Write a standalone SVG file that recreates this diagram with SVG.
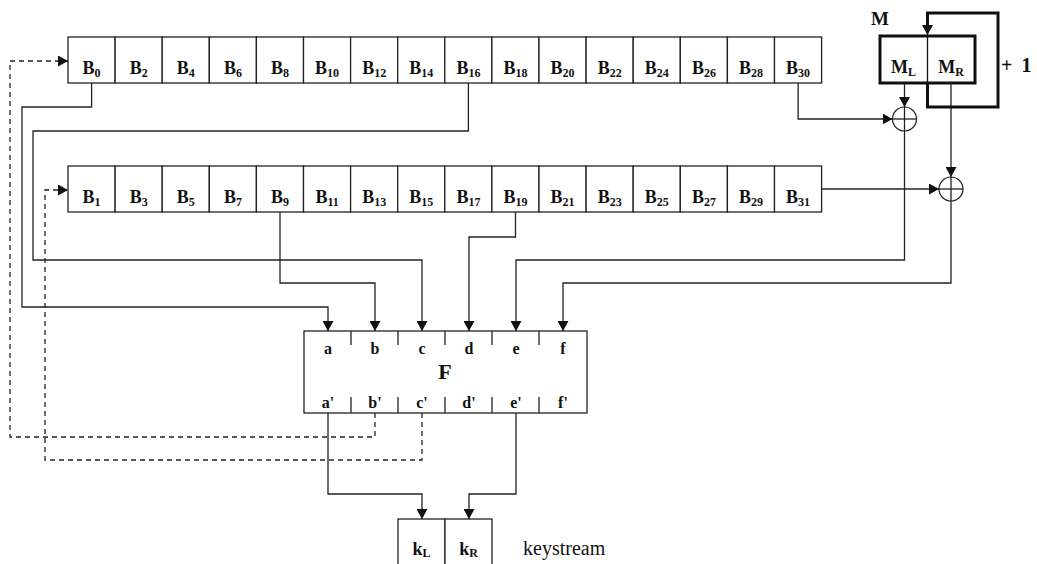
<svg xmlns="http://www.w3.org/2000/svg" width="1037" height="564" viewBox="0 0 1037 564">
<style>
.cell{fill:#fff;stroke:#222;stroke-width:1.3}
.b{font-family:"Liberation Serif",serif;font-weight:bold;font-size:18px;fill:#111;text-anchor:middle}
.sub{font-size:12px}
.ln{fill:none;stroke:#222;stroke-width:1.3}
.ar{marker-end:url(#ah)}
.dash{fill:none;stroke:#222;stroke-width:1.3;stroke-dasharray:5,4}
.thick{fill:none;stroke:#111;stroke-width:3}
.lbl{font-family:"Liberation Serif",serif;font-weight:bold;font-size:16px;fill:#111;text-anchor:middle}
</style>
<defs>
<marker id="ah" markerUnits="userSpaceOnUse" markerWidth="11" markerHeight="11" refX="10" refY="5.5" orient="auto" viewBox="0 0 11 11">
<path d="M0,0 L10,5.5 L0,11 z" fill="#111"/>
</marker>
</defs>
<rect width="1037" height="564" fill="#fff"/>

<g id="top-register">
<g id="B0"><rect class="cell" x="68" y="37" width="47.1" height="46"/><text class="b" x="91.6" y="74">B<tspan class="sub" dy="3">0</tspan></text></g>
<g id="B2"><rect class="cell" x="115.1" y="37" width="47.1" height="46"/><text class="b" x="138.7" y="74">B<tspan class="sub" dy="3">2</tspan></text></g>
<g id="B4"><rect class="cell" x="162.2" y="37" width="47.1" height="46"/><text class="b" x="185.8" y="74">B<tspan class="sub" dy="3">4</tspan></text></g>
<g id="B6"><rect class="cell" x="209.3" y="37" width="47.1" height="46"/><text class="b" x="232.9" y="74">B<tspan class="sub" dy="3">6</tspan></text></g>
<g id="B8"><rect class="cell" x="256.4" y="37" width="47.1" height="46"/><text class="b" x="280" y="74">B<tspan class="sub" dy="3">8</tspan></text></g>
<g id="B10"><rect class="cell" x="303.5" y="37" width="47.1" height="46"/><text class="b" x="327.1" y="74">B<tspan class="sub" dy="3">10</tspan></text></g>
<g id="B12"><rect class="cell" x="350.6" y="37" width="47.1" height="46"/><text class="b" x="374.2" y="74">B<tspan class="sub" dy="3">12</tspan></text></g>
<g id="B14"><rect class="cell" x="397.7" y="37" width="47.1" height="46"/><text class="b" x="421.3" y="74">B<tspan class="sub" dy="3">14</tspan></text></g>
<g id="B16"><rect class="cell" x="444.8" y="37" width="47.1" height="46"/><text class="b" x="468.4" y="74">B<tspan class="sub" dy="3">16</tspan></text></g>
<g id="B18"><rect class="cell" x="491.9" y="37" width="47.1" height="46"/><text class="b" x="515.5" y="74">B<tspan class="sub" dy="3">18</tspan></text></g>
<g id="B20"><rect class="cell" x="539" y="37" width="47.1" height="46"/><text class="b" x="562.6" y="74">B<tspan class="sub" dy="3">20</tspan></text></g>
<g id="B22"><rect class="cell" x="586.1" y="37" width="47.1" height="46"/><text class="b" x="609.7" y="74">B<tspan class="sub" dy="3">22</tspan></text></g>
<g id="B24"><rect class="cell" x="633.2" y="37" width="47.1" height="46"/><text class="b" x="656.8" y="74">B<tspan class="sub" dy="3">24</tspan></text></g>
<g id="B26"><rect class="cell" x="680.3" y="37" width="47.1" height="46"/><text class="b" x="703.9" y="74">B<tspan class="sub" dy="3">26</tspan></text></g>
<g id="B28"><rect class="cell" x="727.4" y="37" width="47.1" height="46"/><text class="b" x="751" y="74">B<tspan class="sub" dy="3">28</tspan></text></g>
<g id="B30"><rect class="cell" x="774.5" y="37" width="47.1" height="46"/><text class="b" x="798.1" y="74">B<tspan class="sub" dy="3">30</tspan></text></g>
</g>

<g id="bottom-register">
<g id="B1"><rect class="cell" x="68" y="166" width="47.1" height="46"/><text class="b" x="91.6" y="203">B<tspan class="sub" dy="3">1</tspan></text></g>
<g id="B3"><rect class="cell" x="115.1" y="166" width="47.1" height="46"/><text class="b" x="138.7" y="203">B<tspan class="sub" dy="3">3</tspan></text></g>
<g id="B5"><rect class="cell" x="162.2" y="166" width="47.1" height="46"/><text class="b" x="185.8" y="203">B<tspan class="sub" dy="3">5</tspan></text></g>
<g id="B7"><rect class="cell" x="209.3" y="166" width="47.1" height="46"/><text class="b" x="232.9" y="203">B<tspan class="sub" dy="3">7</tspan></text></g>
<g id="B9"><rect class="cell" x="256.4" y="166" width="47.1" height="46"/><text class="b" x="280" y="203">B<tspan class="sub" dy="3">9</tspan></text></g>
<g id="B11"><rect class="cell" x="303.5" y="166" width="47.1" height="46"/><text class="b" x="327.1" y="203">B<tspan class="sub" dy="3">11</tspan></text></g>
<g id="B13"><rect class="cell" x="350.6" y="166" width="47.1" height="46"/><text class="b" x="374.2" y="203">B<tspan class="sub" dy="3">13</tspan></text></g>
<g id="B15"><rect class="cell" x="397.7" y="166" width="47.1" height="46"/><text class="b" x="421.3" y="203">B<tspan class="sub" dy="3">15</tspan></text></g>
<g id="B17"><rect class="cell" x="444.8" y="166" width="47.1" height="46"/><text class="b" x="468.4" y="203">B<tspan class="sub" dy="3">17</tspan></text></g>
<g id="B19"><rect class="cell" x="491.9" y="166" width="47.1" height="46"/><text class="b" x="515.5" y="203">B<tspan class="sub" dy="3">19</tspan></text></g>
<g id="B21"><rect class="cell" x="539" y="166" width="47.1" height="46"/><text class="b" x="562.6" y="203">B<tspan class="sub" dy="3">21</tspan></text></g>
<g id="B23"><rect class="cell" x="586.1" y="166" width="47.1" height="46"/><text class="b" x="609.7" y="203">B<tspan class="sub" dy="3">23</tspan></text></g>
<g id="B25"><rect class="cell" x="633.2" y="166" width="47.1" height="46"/><text class="b" x="656.8" y="203">B<tspan class="sub" dy="3">25</tspan></text></g>
<g id="B27"><rect class="cell" x="680.3" y="166" width="47.1" height="46"/><text class="b" x="703.9" y="203">B<tspan class="sub" dy="3">27</tspan></text></g>
<g id="B29"><rect class="cell" x="727.4" y="166" width="47.1" height="46"/><text class="b" x="751" y="203">B<tspan class="sub" dy="3">29</tspan></text></g>
<g id="B31"><rect class="cell" x="774.5" y="166" width="47.1" height="46"/><text class="b" x="798.1" y="203">B<tspan class="sub" dy="3">31</tspan></text></g>
</g>

<g id="M">
<rect x="880" y="36" width="95" height="47" fill="#fff" stroke="#111" stroke-width="3"/>
<line x1="927.5" y1="36" x2="927.5" y2="83" stroke="#111" stroke-width="1.3"/>
<text class="b" x="903.5" y="73">M<tspan class="sub" dy="3">L</tspan></text>
<text class="b" x="951" y="73">M<tspan class="sub" dy="3">R</tspan></text>
<text x="871" y="25" style="font-family:'Liberation Serif',serif;font-weight:bold;font-size:19px;fill:#111">M</text>
<text x="1001" y="72" style="font-family:'Liberation Serif',serif;font-weight:bold;font-size:20px;fill:#111;word-spacing:4px">+ 1</text>
</g>

<g id="xor1">
<circle cx="904.5" cy="119" r="12" fill="#fff" stroke="#222" stroke-width="1.2"/>
</g>
<g id="xor2">
<circle cx="951" cy="189" r="12" fill="#fff" stroke="#222" stroke-width="1.2"/>
</g>

<g id="F">
<rect x="304" y="331" width="283" height="82" fill="#fff" stroke="#222" stroke-width="1.3"/>
<path class="ln" d="M351,331V345M398,331V345M445,331V345M492,331V345M539,331V345M351,397V413M398,397V413M445,397V413M492,397V413M539,397V413"/>
<text class="lbl" x="328" y="354">a</text>
<text class="lbl" x="375" y="354">b</text>
<text class="lbl" x="422" y="354">c</text>
<text class="lbl" x="469" y="354">d</text>
<text class="lbl" x="516" y="354">e</text>
<text class="lbl" x="563" y="354">f</text>
<text x="445" y="379" style="font-family:'Liberation Serif',serif;font-weight:bold;font-size:22px;fill:#111;text-anchor:middle">F</text>
<text class="lbl" x="328" y="408">a'</text>
<text class="lbl" x="375" y="408">b'</text>
<text class="lbl" x="422" y="408">c'</text>
<text class="lbl" x="469" y="408">d'</text>
<text class="lbl" x="516" y="408">e'</text>
<text class="lbl" x="563" y="408">f'</text>
</g>

<g id="k">
<rect class="cell" x="398" y="519" width="47" height="50"/>
<rect class="cell" x="445" y="519" width="47" height="50"/>
<text class="b" x="421.5" y="555">k<tspan class="sub" dy="2">L</tspan></text>
<text class="b" x="468.5" y="555">k<tspan class="sub" dy="2">R</tspan></text>
<text x="523" y="555" style="font-family:'Liberation Serif',serif;font-size:20px;fill:#111">keystream</text>
</g>

<g id="connectors">
<path class="ln ar" d="M91.6,83V107H22V307H328V331"/>
<path class="ln ar" d="M468.4,83V131H33V260H422V331"/>
<path class="ln ar" d="M280,212V283H375V331"/>
<path class="ln ar" d="M515.5,212V237H469V331"/>
<path class="ln ar" d="M798.1,83V119H892.5"/>
<path class="ln ar" d="M821.6,189H939"/>
<path class="ln ar" d="M904.5,83V107"/>
<path class="ln ar" d="M951,83V177"/>
<path class="ln" d="M892.5,119H916.5"/>
<path class="ln" d="M939,189H963"/>
<path class="ln ar" d="M904.5,107V260H516V331"/>
<path class="ln ar" d="M951,177V283H563V331"/>
<path class="thick" d="M927.5,83V107H998V13H927.5V26"/>
<path class="ar" d="M927.5,25V35" stroke="#111" stroke-width="1.3" fill="none"/>
<path class="ln ar" d="M328,413V494H422V519"/>
<path class="ln ar" d="M516,413V494H469V519"/>
<path class="dash ar" d="M375,413V437H10V61H68"/>
<path class="dash ar" d="M422,413V460H45V190H68"/>
</g>
</svg>
